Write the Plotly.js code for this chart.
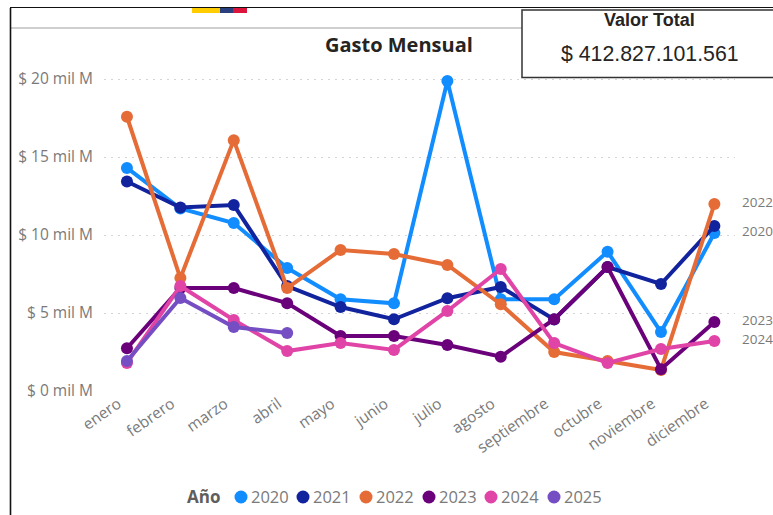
<!DOCTYPE html>
<html><head><meta charset="utf-8">
<script src="https://cdn.plot.ly/plotly-3.0.1.min.js"></script>
<style>html,body{margin:0;padding:0;background:#fff;overflow:hidden}#c{width:773px;height:515px}</style>
</head><body><div id="c"></div>
<script>
const months = ["enero","febrero","marzo","abril","mayo","junio","julio","agosto","septiembre","octubre","noviembre","diciembre"];
const years = ["2020","2021","2022","2023","2024","2025"];
const colors = ["#118DFF","#12239E","#E66C37","#6B007B","#E044A7","#744EC2"];
const y2020 = [14.3,11.7,10.77,7.88,5.88,5.62,19.87,5.88,5.88,8.93,3.78,10.13];
const y2021 = [13.43,11.76,11.92,6.73,5.38,4.6,5.95,6.67,4.58,7.95,6.86,10.58];
const y2022 = [17.58,7.24,16.08,6.6,9.04,8.78,8.08,5.56,2.5,1.92,1.35,11.98];
const y2023 = [2.74,6.6,6.6,5.63,3.53,3.53,2.95,2.2,4.6,7.95,1.4,4.42];
const y2024 = [1.8,6.73,4.55,2.56,3.07,2.63,5.13,7.82,3.07,1.8,2.69,3.2];
const y2025 = [1.92,5.96,4.1,3.72];
const seriesValues = [y2020,y2021,y2022,y2023,y2024,y2025];
const yTickVals = [0,5,10,15,20];
const yTickText = ["$ 0 mil M","$ 5 mil M","$ 10 mil M","$ 15 mil M","$ 20 mil M"];
const endLabelYears = ["2022","2020","2023","2024"];
const chartTitle = "Gasto Mensual";
const kpiTitle = "Valor Total";
const kpiValue = "$ 412.827.101.561";
const legendTitle = "Año";

const W=773,H=515,L=104,R=735,T=65,B=391;
const px=x=>(x-L)/(R-L), py=y=>(B-y)/(B-T);
const uiFont="'Open Sans', 'Noto Sans', sans-serif", arial="'Liberation Sans', Arial, sans-serif";
const gray="#7a7a7a";

const traces = years.map((yr,i)=>({
  type:"scatter",mode:"lines+markers",name:yr,
  x:months.slice(0,seriesValues[i].length),y:seriesValues[i],
  line:{color:colors[i],width:4},
  marker:{color:colors[i],size:12},
  cliponaxis:false,showlegend:false
}));

const annotations=[
 {xref:"paper",yref:"paper",x:px(399),y:py(44.5),text:"<b>"+chartTitle+"</b>",showarrow:false,xanchor:"center",yanchor:"middle",font:{family:uiFont,size:20,color:"#252423"}},
 {xref:"paper",yref:"paper",x:px(649),y:py(20),text:"<b>"+kpiTitle+"</b>",showarrow:false,xanchor:"center",yanchor:"middle",font:{family:arial,size:18,color:"#252423"}},
 {xref:"paper",yref:"paper",x:px(649.5),y:py(54),text:kpiValue,showarrow:false,xanchor:"center",yanchor:"middle",font:{family:arial,size:21.3,color:"#252423"}},
 {xref:"paper",yref:"paper",x:px(222),y:py(497),text:"<b>"+legendTitle+"</b>",showarrow:false,xanchor:"right",yanchor:"middle",font:{family:uiFont,size:17,color:"#605E5C"}}
];
endLabelYears.forEach(yr=>{
  const v=seriesValues[years.indexOf(yr)];
  annotations.push({x:months[11],y:v[11],text:yr,showarrow:false,xanchor:"left",yanchor:"middle",xshift:26,yshift:2,font:{family:uiFont,size:13.5,color:gray}});
});
const shapes=[
 {type:"line",xref:"paper",yref:"paper",x0:px(11),x1:px(W),y0:py(28),y1:py(28),line:{color:"#cfcfcf",width:2},layer:"below"},
 {type:"line",xref:"paper",yref:"paper",x0:px(10.5),x1:px(10.5),y0:py(8),y1:py(H),line:{color:"#111",width:1.6}},
 {type:"line",xref:"paper",yref:"paper",x0:px(10),x1:px(W),y0:py(7.5),y1:py(7.5),line:{color:"#111",width:1.2}},
 {type:"rect",xref:"paper",yref:"paper",x0:px(192),x1:px(220),y0:py(8),y1:py(13),fillcolor:"#FFCD00",line:{width:0}},
 {type:"rect",xref:"paper",yref:"paper",x0:px(220),x1:px(233),y0:py(8),y1:py(13),fillcolor:"#2A3F7E",line:{width:0}},
 {type:"rect",xref:"paper",yref:"paper",x0:px(233),x1:px(247),y0:py(8),y1:py(13),fillcolor:"#DC143C",line:{width:0}},
 {type:"rect",xref:"paper",yref:"paper",x0:px(522),x1:px(W+5),y0:py(10),y1:py(77.5),fillcolor:"#fff",line:{color:"#333",width:1.5},layer:"below"}
];
const legendX=[241,303,366,429,491,554];
years.forEach((yr,i)=>{
  const cx=legendX[i];
  shapes.push({type:"circle",xref:"paper",yref:"paper",x0:px(cx-6.5),x1:px(cx+6.5),y0:py(503.5),y1:py(490.5),fillcolor:colors[i],line:{width:0}});
  annotations.push({xref:"paper",yref:"paper",x:px(cx+8),y:py(497),text:yr,showarrow:false,xanchor:"left",yanchor:"middle",font:{family:uiFont,size:16.5,color:gray}});
});

Plotly.newPlot("c",traces,{
  width:W,height:H,
  margin:{l:L,r:W-R,t:T,b:H-B,pad:0},
  paper_bgcolor:"#fff",plot_bgcolor:"rgba(0,0,0,0)",
  showlegend:false,
  xaxis:{type:"category",categoryorder:"array",categoryarray:months,range:[-0.43,11.386],
    showgrid:false,zeroline:false,showline:false,ticks:"",tickangle:-35,ticklabelshift:-9,
    tickfont:{family:uiFont,size:15.5,color:gray},automargin:false},
  yaxis:{range:[0,(B-T)/15.6],tickvals:yTickVals,ticktext:yTickText,showgrid:true,
    gridcolor:"#d4d4d4",griddash:"2px,5px",gridwidth:1,zeroline:false,showline:false,ticks:"",
    ticklabelstandoff:10,tickfont:{family:uiFont,size:15.5,color:gray},automargin:false},
  annotations,shapes,
  hovermode:false
},{displayModeBar:false,staticPlot:true});
</script></body></html>
